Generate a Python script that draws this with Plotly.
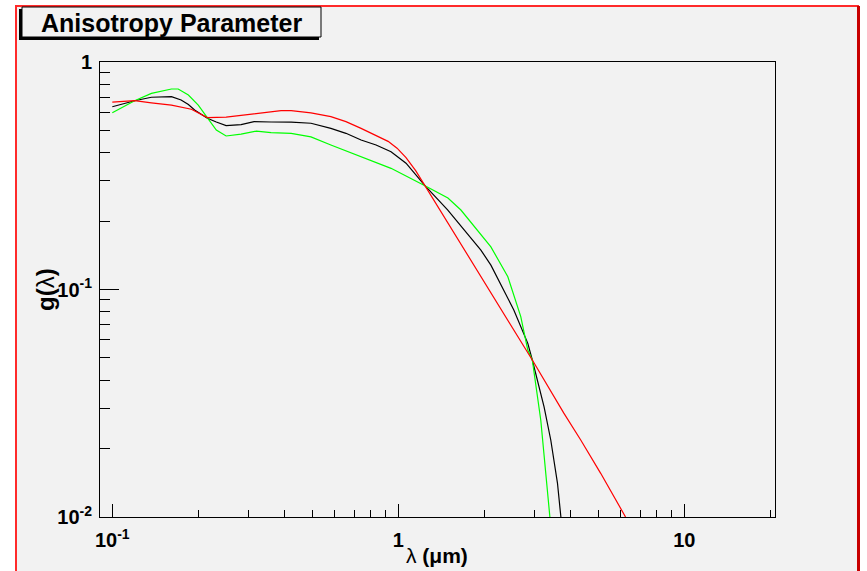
import plotly.graph_objects as go

# Anisotropy parameter g(lambda) for three models, wavelength in micrometres
black_wl = [0.100, 0.1197, 0.137, 0.150, 0.161, 0.174, 0.1845, 0.194, 0.215, 0.231,
            0.250, 0.282, 0.313, 0.359, 0.422, 0.495, 0.581, 0.656, 0.741, 0.836,
            0.943, 1.064, 1.239, 1.487, 1.944, 2.107, 2.534, 2.836, 2.941, 3.233,
            3.412, 3.601, 3.698, 3.75]
black_g = [0.636, 0.676, 0.700, 0.704, 0.704, 0.681, 0.650, 0.615, 0.566, 0.545,
           0.525, 0.531, 0.547, 0.545, 0.544, 0.538, 0.511, 0.486, 0.454, 0.432,
           0.403, 0.359, 0.286, 0.224, 0.149, 0.128, 0.0813, 0.058, 0.049, 0.0305,
           0.0218, 0.0141, 0.0100, 0.0085]

green_wl = [0.100, 0.1197, 0.137, 0.1485, 0.161, 0.170, 0.1845, 0.1998, 0.215, 0.231,
            0.250, 0.282, 0.319, 0.359, 0.422, 0.495, 0.581, 0.741, 0.836, 0.943,
            1.239, 1.491, 1.655, 2.107, 2.415, 2.68, 2.836, 2.941, 3.148, 3.278,
            3.393, 3.42]
green_g = [0.599, 0.676, 0.728, 0.746, 0.761, 0.761, 0.716, 0.647, 0.566, 0.502,
           0.473, 0.482, 0.497, 0.489, 0.486, 0.469, 0.432, 0.384, 0.361, 0.341,
           0.286, 0.2525, 0.2236, 0.154, 0.1138, 0.076, 0.0542, 0.049, 0.0267, 0.0156,
           0.0100, 0.0088]

red_wl = [0.100, 0.1197, 0.137, 0.161, 0.189, 0.215, 0.250, 0.306, 0.389, 0.422,
          0.495, 0.581, 0.656, 0.741, 0.836, 0.921, 0.99, 1.064, 1.15, 1.239,
          1.409, 1.612, 1.944, 2.223, 2.54, 2.941, 3.79, 4.343, 5.10, 6.23, 6.5]
red_g = [0.667, 0.676, 0.662, 0.647, 0.620, 0.570, 0.573, 0.589, 0.611, 0.611,
         0.598, 0.575, 0.547, 0.511, 0.477, 0.448, 0.418, 0.380, 0.333, 0.286,
         0.220, 0.167, 0.113, 0.0859, 0.0653, 0.049, 0.0286, 0.0218, 0.01556,
         0.0100, 0.0093]

x_major = [0.1, 1, 10]
x_major_text = ["10<sup>-1</sup>", "1", "10"]
x_minor = [0.2, 0.3, 0.4, 0.5, 0.6, 0.7, 0.8, 0.9, 2, 3, 4, 5, 6, 7, 8, 9, 20]
y_major = [0.01, 0.1, 1]
y_major_text = ["10<sup>-2</sup>", "10<sup>-1</sup>", "1"]
y_minor = [0.02, 0.03, 0.04, 0.05, 0.06, 0.07, 0.08, 0.09,
           0.2, 0.3, 0.4, 0.5, 0.6, 0.7, 0.8, 0.9]

W, H = 867, 571
L, R, T, B = 100, 92, 62, 54
pw, ph = W - L - R, H - T - B


def px(xp):
    return (xp - L) / pw


def py(yp):
    return (H - B - yp) / ph


BG = "#f2f2f2"
FONT = "Liberation Sans, Arial, sans-serif"

fig = go.Figure()
for wl, g, col in [(black_wl, black_g, "#000000"),
                   (green_wl, green_g, "#00ff00"),
                   (red_wl, red_g, "#ff0000")]:
    fig.add_trace(go.Scatter(x=wl, y=g, mode="lines",
                             line=dict(color=col, width=1.2),
                             showlegend=False, hoverinfo="skip"))

axis_common = dict(type="log", showgrid=False, zeroline=False, showline=True,
                   linecolor="black", linewidth=1, mirror=True, ticks="inside",
                   tickcolor="black", tickwidth=1, tickmode="array",
                   tickfont=dict(family=FONT, size=20, color="black", weight="bold"))

fig.update_xaxes(**axis_common, range=[-1.043, 1.317], tickvals=x_major,
                 ticktext=x_major_text, ticklen=13, ticklabelstandoff=5,
                 minor=dict(tickmode="array", tickvals=x_minor, ticks="inside",
                            ticklen=7, tickcolor="black", tickwidth=1))
fig.update_yaxes(**axis_common, range=[-2.0, 0.0001], tickvals=y_major,
                 ticktext=y_major_text, ticklen=19, ticklabelstandoff=3,
                 minor=dict(tickmode="array", tickvals=y_minor, ticks="inside",
                            ticklen=10, tickcolor="black", tickwidth=1))

shapes = [
    # canvas frame
    dict(type="rect", xref="paper", yref="paper", x0=px(16), x1=px(858),
         y0=py(600), y1=py(6), fillcolor=BG, line=dict(color="#ff2a2a", width=2),
         layer="below"),
    # darker right edge of the canvas frame
    dict(type="line", xref="paper", yref="paper", x0=px(858.5), x1=px(858.5),
         y0=py(600), y1=py(6), line=dict(color="#c80000", width=3), layer="above"),
    # title box shadow and box
    dict(type="rect", xref="paper", yref="paper", x0=px(19), x1=px(319),
         y0=py(40), y1=py(9), fillcolor="black", line=dict(width=0), layer="above"),
    dict(type="rect", xref="paper", yref="paper", x0=px(22), x1=px(321),
         y0=py(37), y1=py(7), fillcolor=BG, line=dict(color="black", width=1),
         layer="above"),
]

annotations = [
    dict(text="<b>Anisotropy Parameter</b>", xref="paper", yref="paper",
         x=px(171), y=py(22.5), xanchor="center", yanchor="middle", showarrow=False,
         font=dict(family=FONT, size=25, color="black")),
    dict(text="λ <b>(μm)</b>", xref="paper", yref="paper",
         x=px(437), y=py(555), xanchor="center", yanchor="middle", showarrow=False,
         font=dict(family=FONT, size=21, color="black")),
    dict(text="<b>g(</b>λ<b>)</b>", xref="paper", yref="paper", textangle=-90,
         x=px(45), y=py(289), xanchor="center", yanchor="middle", showarrow=False,
         font=dict(family=FONT, size=24, color="black")),
]

fig.update_layout(width=W, height=H, margin=dict(l=L, r=R, t=T, b=B, autoexpand=False),
                  paper_bgcolor="white", plot_bgcolor=BG,
                  shapes=shapes, annotations=annotations)

fig.write_html("out.html")
